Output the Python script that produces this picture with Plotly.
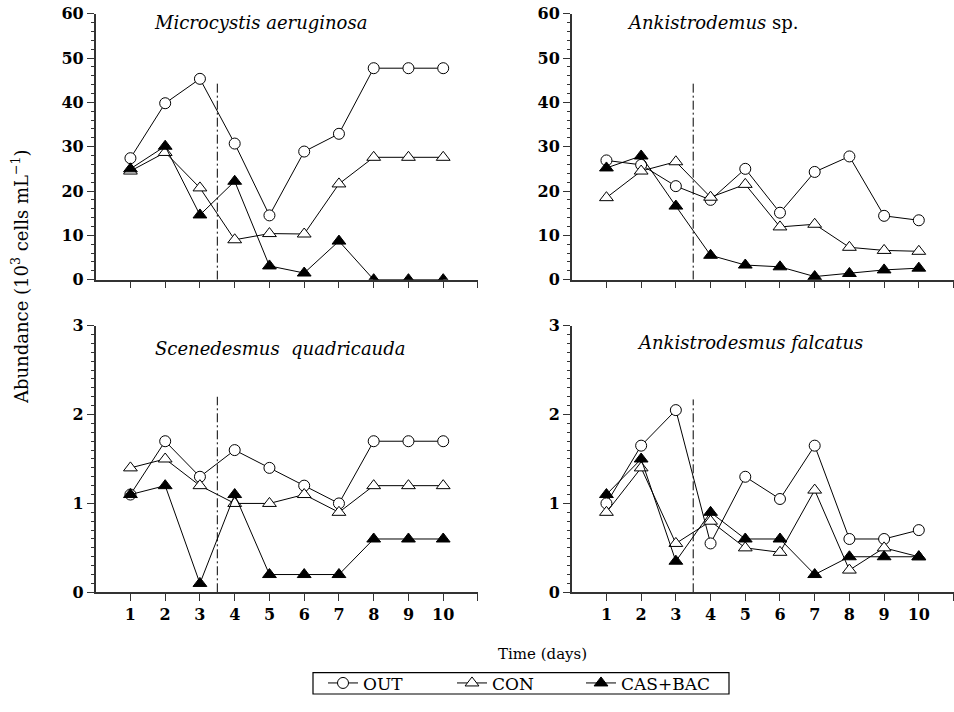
import plotly.graph_objects as go

days = [1, 2, 3, 4, 5, 6, 7, 8, 9, 10]

mic_out = [27.4, 39.8, 45.3, 30.7, 14.5, 28.9, 32.9, 47.7, 47.7, 47.7]
mic_con = [24.5, 28.7, 20.7, 9.0, 10.4, 10.3, 21.6, 27.6, 27.6, 27.6]
mic_cas = [25.0, 30.1, 14.6, 22.2, 3.1, 1.5, 8.7, 0.0, 0.0, 0.0]

ank_out = [26.9, 25.9, 21.1, 18.0, 25.0, 15.1, 24.3, 27.8, 14.4, 13.4]
ank_con = [18.5, 24.5, 26.6, 18.6, 21.5, 11.9, 12.5, 7.3, 6.6, 6.4]
ank_cas = [25.2, 27.9, 16.6, 5.5, 3.3, 2.9, 0.7, 1.4, 2.2, 2.6]

sce_out = [1.1, 1.7, 1.3, 1.6, 1.4, 1.2, 1.0, 1.7, 1.7, 1.7]
sce_con = [1.4, 1.5, 1.2, 1.0, 1.0, 1.1, 0.9, 1.2, 1.2, 1.2]
sce_cas = [1.1, 1.2, 0.1, 1.1, 0.2, 0.2, 0.2, 0.6, 0.6, 0.6]

fal_out = [1.0, 1.65, 2.05, 0.55, 1.3, 1.05, 1.65, 0.6, 0.6, 0.7]
fal_con = [0.9, 1.4, 0.55, 0.8, 0.5, 0.45, 1.15, 0.25, 0.5, 0.4]
fal_cas = [1.1, 1.5, 0.35, 0.9, 0.6, 0.6, 0.2, 0.4, 0.4, 0.4]

series_names = ["OUT", "CON", "CAS+BAC"]
panel_titles = ["<i>Microcystis aeruginosa</i>", "<i>Ankistrodemus</i> sp.",
                "<i>Scenedesmus  quadricauda</i>", "<i>Ankistrodesmus falcatus</i>"]
x_tickvals = [1, 2, 3, 4, 5, 6, 7, 8, 9, 10, 11]
x_ticktext = ["1", "2", "3", "4", "5", "6", "7", "8", "9", "10", ""]
treatment_day = 3.5
dashline_tops = [44.5, 44.5, 2.2, 2.17]

panels = [
    (mic_out, mic_con, mic_cas),
    (ank_out, ank_con, ank_cas),
    (sce_out, sce_con, sce_cas),
    (fal_out, fal_con, fal_cas),
]

FONT = "DejaVu Serif"
styles = [
    dict(symbol="circle", size=11, color="white", line=dict(color="black", width=1)),
    dict(symbol="triangle-up", size=12, color="white", line=dict(color="black", width=1)),
    dict(symbol="triangle-up", size=12, color="black", line=dict(color="black", width=1)),
]

fig = go.Figure()
for p, data in enumerate(panels):
    ax = "" if p == 0 else str(p + 1)
    for s, vals in enumerate(data):
        fig.add_trace(go.Scatter(
            x=days, y=vals, mode="lines+markers", name=series_names[s],
            line=dict(color="black", width=1),
            marker=styles[s], showlegend=(p == 0),
            xaxis="x" + ax, yaxis="y" + ax,
        ))

xdom = [[0.1003, 0.501], [0.5993, 0.9995]]
ydom = [[0.6072, 0.9808], [0.1681, 0.5426]]

axis_line = dict(showline=True, linecolor="#333", linewidth=1.5, showgrid=False,
                 zeroline=False, ticks="outside", tickcolor="#333", tickwidth=1.2,
                 automargin=False,
                 tickfont=dict(family=FONT, size=16, color="black", weight="bold"))

layout = dict(
    width=954, height=712, margin=dict(l=0, r=0, t=0, b=0, autoexpand=False),
    plot_bgcolor="white", paper_bgcolor="white",
    font=dict(family=FONT, color="black"),
    showlegend=True,
    legend=dict(orientation="h", x=323 / 954, y=1 - 683.4 / 712, xanchor="left", yanchor="middle",
                borderwidth=0, bgcolor="rgba(0,0,0,0)",
                font=dict(family=FONT, size=17, color="black"),
                entrywidth=84, itemwidth=30, tracegroupgap=0),
)

shapes = [dict(type="rect", xref="paper", yref="paper",
               x0=313 / 954, x1=729 / 954, y0=1 - 694 / 712, y1=1 - 672.7 / 712,
               line=dict(color="black", width=1.2), fillcolor="rgba(0,0,0,0)")]
annotations = []
for p in range(4):
    row, col = divmod(p, 2)
    ax = "" if p == 0 else str(p + 1)
    xk = "xaxis" + ax
    yk = "yaxis" + ax
    layout[xk] = dict(axis_line, domain=xdom[col], range=[0, 11], tickvals=x_tickvals,
                      ticktext=x_ticktext, ticklen=7, showticklabels=(row == 1),
                      anchor="y" + ax)
    if row == 0:
        ycfg = dict(range=[0, 60], tickvals=[0, 10, 20, 30, 40, 50, 60],
                    minor=dict(dtick=2, tick0=0, ticks="outside", ticklen=3, tickcolor="#333"))
    else:
        ycfg = dict(range=[0, 3], tickvals=[0, 1, 2, 3],
                    minor=dict(dtick=0.1, tick0=0, ticks="outside", ticklen=3, tickcolor="#333"))
    layout[yk] = dict(axis_line, domain=ydom[row], ticklen=7, anchor="x" + ax, **ycfg)
    shapes.append(dict(type="line", xref="x" + ax, yref="y" + ax,
                       x0=treatment_day, x1=treatment_day, y0=0, y1=dashline_tops[p],
                       line=dict(color="black", width=1, dash="9px,3px,2px,3px")))

title_pos = [(260, 22), (712, 22), (280, 348), (750, 343)]
for p, (tx, ty) in enumerate(title_pos):
    annotations.append(dict(text=panel_titles[p], xref="paper", yref="paper",
                            x=tx / 954, y=1 - ty / 712, xanchor="center", yanchor="middle",
                            showarrow=False, font=dict(family=FONT, size=18, color="black")))

annotations.append(dict(text="Time (days)", xref="paper", yref="paper",
                        x=542 / 954, y=1 - 654 / 712, xanchor="center", yanchor="middle",
                        showarrow=False, font=dict(family=FONT, size=15, color="black")))
annotations.append(dict(text="Abundance (10<sup>3</sup> cells mL<sup>−1</sup>)",
                        xref="paper", yref="paper", textangle=-90,
                        x=20 / 954, y=1 - 277 / 712, xanchor="center", yanchor="middle",
                        showarrow=False, font=dict(family=FONT, size=18, color="black")))

layout["shapes"] = shapes
layout["annotations"] = annotations
fig.update_layout(**layout)
fig.write_html("out.html")
